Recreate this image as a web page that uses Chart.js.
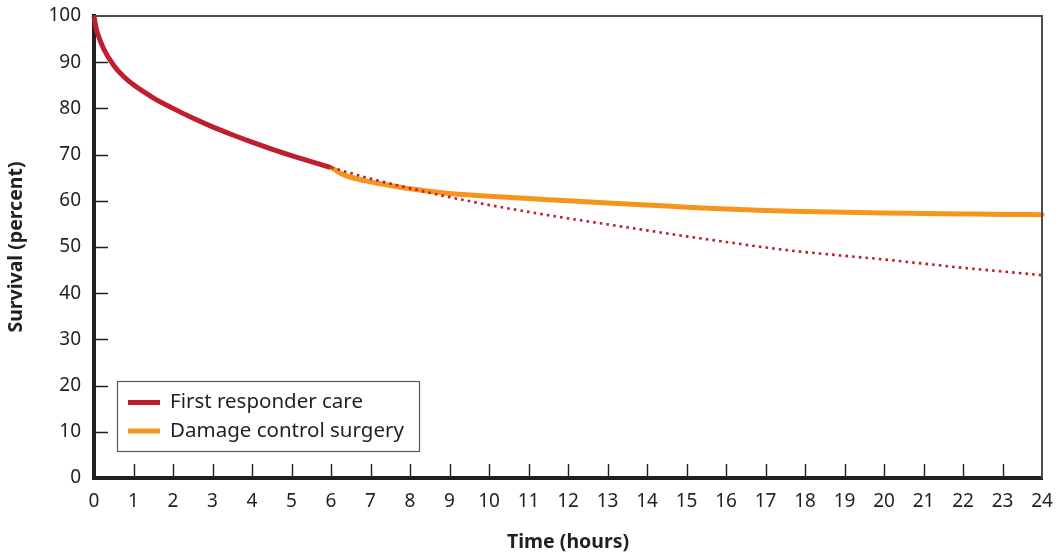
<!DOCTYPE html>
<html>
<head>
<meta charset="utf-8">
<script src="https://cdn.jsdelivr.net/npm/chart.js@4.4.1/dist/chart.umd.min.js"></script>
<style>
  html, body { margin: 0; padding: 0; background: #ffffff; }
  #wrap { position: relative; width: 1063px; height: 558px; }
</style>
</head>
<body>
<div id="wrap"><canvas id="c" width="1063" height="558"></canvas></div>
<script>
// ---- Data ----
const xTicks = [0,1,2,3,4,5,6,7,8,9,10,11,12,13,14,15,16,17,18,19,20,21,22,23,24];
const yTicks = [0,10,20,30,40,50,60,70,80,90,100];

const firstResponderHours = [0, 0.05, 0.1, 0.25, 0.5, 0.75, 1, 1.5, 2, 2.5, 3, 3.5, 4, 4.5, 5, 5.5, 6];
const firstResponderSurvival = [100, 97.5, 96, 92.8, 89.3, 86.9, 85.1, 82.3, 80.0, 77.9, 76.0, 74.3, 72.7, 71.2, 69.8, 68.5, 67.2];

const projectedHours = [6, 7, 8, 9, 10, 11, 12, 13, 14, 15, 16, 17, 18, 19, 20, 21, 22, 23, 24];
const projectedSurvival = [67.2, 64.8, 62.7, 60.8, 59.1, 57.6, 56.2, 54.9, 53.6, 52.3, 51.1, 49.9, 48.9, 48.1, 47.3, 46.4, 45.5, 44.7, 43.9];

const surgeryHours = [6.05, 6.25, 6.5, 7, 7.5, 8, 9, 10, 11, 12, 13, 14, 15, 16, 17, 18, 19, 20, 21, 22, 23, 24];
const surgerySurvival = [67.0, 65.9, 65.1, 64.1, 63.3, 62.6, 61.6, 61.0, 60.5, 60.0, 59.5, 59.1, 58.6, 58.2, 57.9, 57.7, 57.5, 57.35, 57.25, 57.15, 57.05, 57.0];

const legendLabels = ['First responder care', 'Damage control surgery'];
const xTitle = 'Time (hours)';
const yTitle = 'Survival (percent)';

const RED = '#be1e2d';
const ORANGE = '#f7941d';
const INK = '#231f20';
const FONT = '"Noto Sans", "DejaVu Sans", sans-serif';

const pts = (xs, ys) => xs.map((x, i) => ({ x: x, y: ys[i] }));

// ---- Plugin: inward ticks, frame, legend ----
const decor = {
  id: 'decor',
  afterDatasetsDraw(chart) {
    const ctx = chart.ctx;
    const a = chart.chartArea;
    const xs = chart.scales.x, ys = chart.scales.y;
    ctx.save();
    // top and right frame
    ctx.strokeStyle = '#4d4d4f';
    ctx.lineWidth = 2;
    ctx.beginPath();
    ctx.moveTo(a.left, a.top);
    ctx.lineTo(a.right, a.top);
    ctx.lineTo(a.right, a.bottom);
    ctx.stroke();
    // inward ticks
    ctx.strokeStyle = INK;
    ctx.lineWidth = 1.4;
    ctx.beginPath();
    xTicks.forEach(v => {
      if (v === 0 || v === 24) return;
      const px = Math.round(xs.getPixelForValue(v)) + 0.5;
      ctx.moveTo(px, a.bottom);
      ctx.lineTo(px, a.bottom - 14);
    });
    yTicks.forEach(v => {
      if (v === 0 || v === 100) return;
      const py = Math.round(ys.getPixelForValue(v)) + 0.5;
      ctx.moveTo(a.left, py);
      ctx.lineTo(a.left + 14, py);
    });
    ctx.stroke();
    // legend
    const bx = 117.5, by = 381.5, bw = 302, bh = 70;
    ctx.fillStyle = '#ffffff';
    ctx.fillRect(bx, by, bw, bh);
    ctx.strokeStyle = '#58595b';
    ctx.lineWidth = 1.2;
    ctx.strokeRect(bx, by, bw, bh);
    const rows = [402.5, 431];
    const cols = [RED, ORANGE];
    ctx.font = '20.5px ' + FONT;
    ctx.textBaseline = 'middle';
    ctx.textAlign = 'left';
    rows.forEach((ry, i) => {
      ctx.strokeStyle = cols[i];
      ctx.lineWidth = 5;
      ctx.beginPath();
      ctx.moveTo(128, ry);
      ctx.lineTo(160, ry);
      ctx.stroke();
      ctx.fillStyle = INK;
      ctx.fillText(legendLabels[i], 170, ry);
    });
    ctx.restore();
  }
};

new Chart(document.getElementById('c'), {
  type: 'line',
  data: {
    datasets: [
      {
        label: legendLabels[0],
        data: pts(firstResponderHours, firstResponderSurvival),
        borderColor: RED, borderWidth: 5, pointRadius: 0,
        cubicInterpolationMode: 'monotone', borderCapStyle: 'butt', order: 3
      },
      {
        label: legendLabels[1],
        data: pts(surgeryHours, surgerySurvival),
        borderColor: ORANGE, borderWidth: 5, pointRadius: 0,
        cubicInterpolationMode: 'monotone', borderCapStyle: 'round', order: 2
      },
      {
        label: 'Projected first responder care',
        data: pts(projectedHours, projectedSurvival),
        borderColor: RED, borderWidth: 2.6, pointRadius: 0,
        borderDash: [2.6, 4.1],
        cubicInterpolationMode: 'monotone', order: 1
      }
    ]
  },
  options: {
    responsive: false,
    animation: false,
    clip: false,
    layout: { padding: { top: 16, right: 21, left: 0, bottom: 0 } },
    plugins: { legend: { display: false }, tooltip: { enabled: false } },
    scales: {
      x: {
        type: 'linear', min: 0, max: 24,
        afterBuildTicks: s => { s.ticks = xTicks.map(v => ({ value: v })); },
        afterFit: s => { s.height = 80; s.paddingLeft = 0; s.paddingRight = 0; },
        grid: { display: false, drawTicks: false },
        border: { display: true, color: INK, width: 4 },
        ticks: { color: INK, font: { family: FONT, size: 19 }, padding: 12, maxRotation: 0, autoSkip: false },
        title: { display: true, text: xTitle, color: INK, font: { family: FONT, size: 19.5, weight: 'bold' }, padding: { top: 0, bottom: 4 } }
      },
      y: {
        type: 'linear', min: 0, max: 100,
        afterBuildTicks: s => { s.ticks = yTicks.map(v => ({ value: v })); },
        afterFit: s => { s.width = 94; s.paddingTop = 0; s.paddingBottom = 0; },
        grid: { display: false, drawTicks: false },
        border: { display: true, color: INK, width: 4 },
        ticks: { color: INK, font: { family: FONT, size: 19 }, padding: 13, autoSkip: false },
        title: { display: true, text: yTitle, color: INK, font: { family: FONT, size: 19.5, weight: 'bold' }, padding: { top: 5, bottom: 0 } }
      }
    }
  },
  plugins: [decor]
});
</script>
</body>
</html>
